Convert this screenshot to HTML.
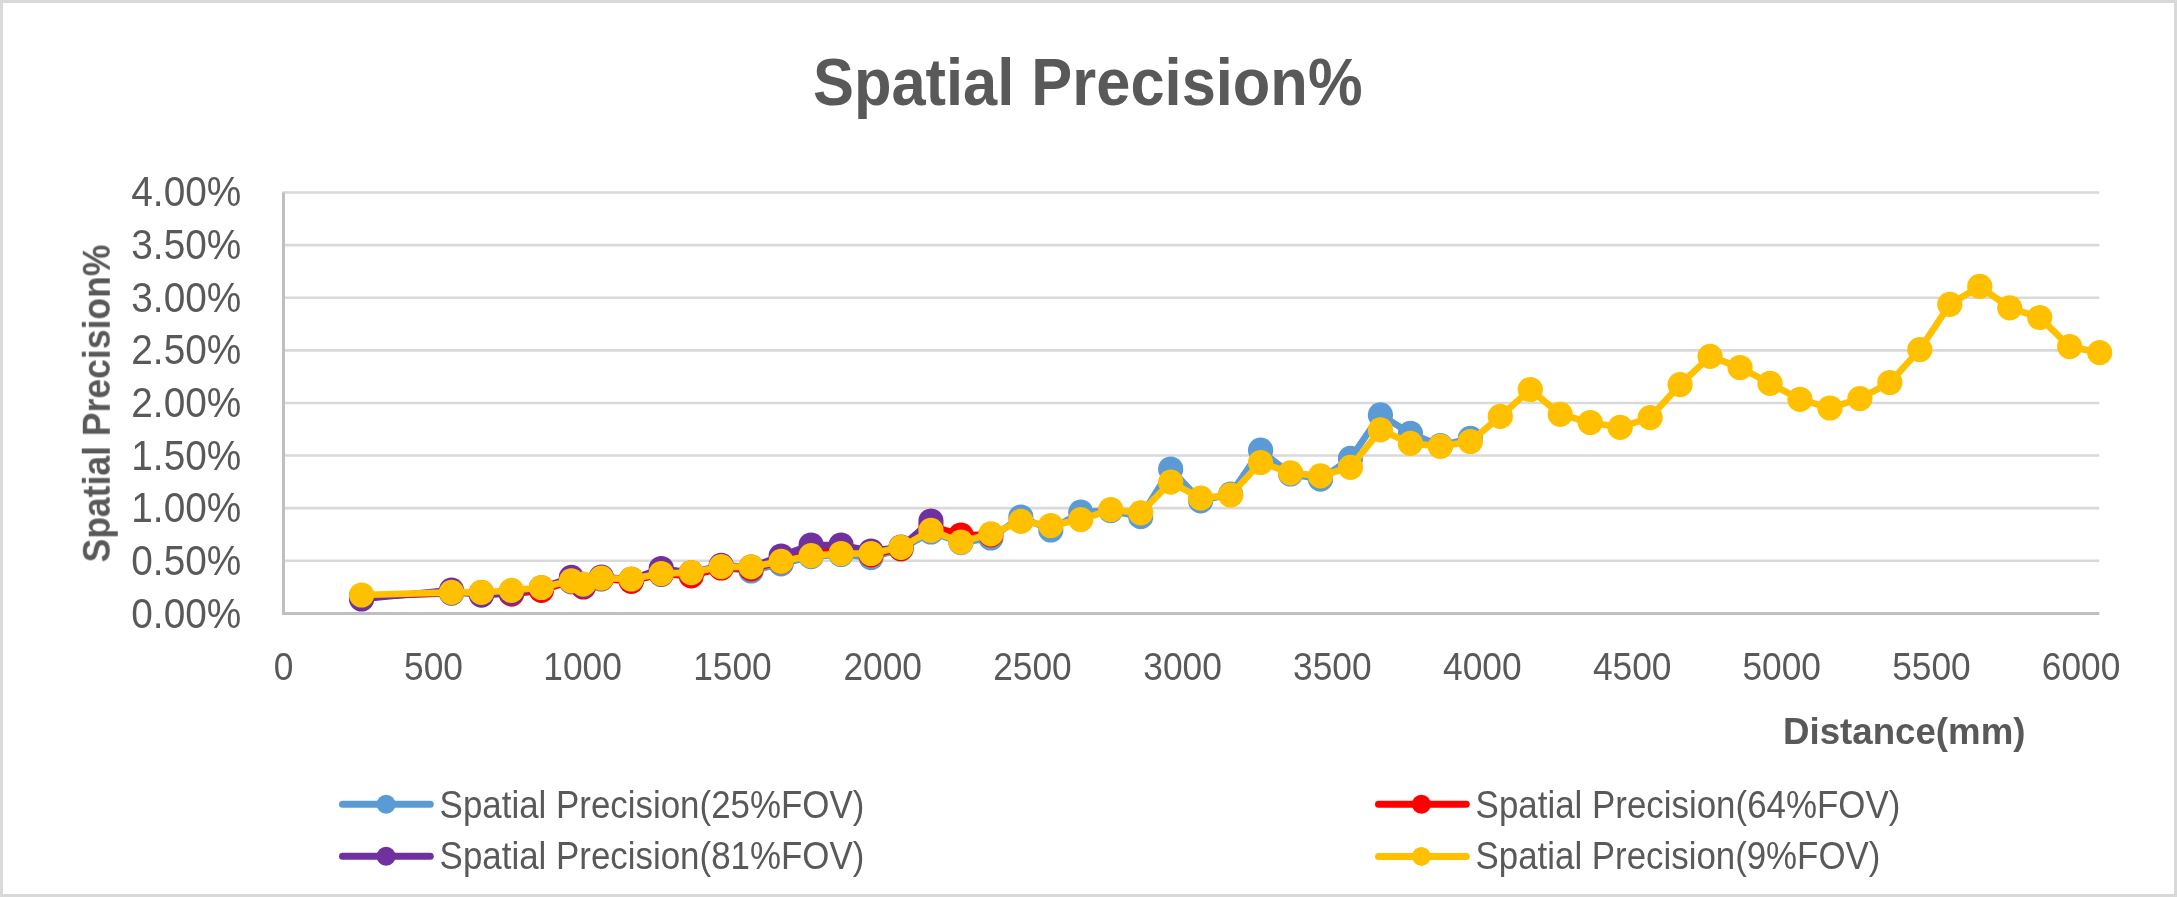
<!DOCTYPE html>
<html><head><meta charset="utf-8"><title>Spatial Precision%</title>
<style>
html,body{margin:0;padding:0;background:#fff;width:2177px;height:897px;overflow:hidden;}
svg{display:block;font-family:"Liberation Sans", sans-serif;}
</style></head><body>
<svg width="2177" height="897" viewBox="0 0 2177 897">
<rect x="0" y="0" width="2177" height="897" fill="#D9D9D9"/>
<rect x="3" y="3" width="2171" height="891" fill="#FFFFFF"/>
<line x1="282.19" y1="560.79" x2="2099.3" y2="560.79" stroke="#D9D9D9" stroke-width="2.6"/>
<line x1="282.19" y1="508.17" x2="2099.3" y2="508.17" stroke="#D9D9D9" stroke-width="2.6"/>
<line x1="282.19" y1="455.56" x2="2099.3" y2="455.56" stroke="#D9D9D9" stroke-width="2.6"/>
<line x1="282.19" y1="402.95" x2="2099.3" y2="402.95" stroke="#D9D9D9" stroke-width="2.6"/>
<line x1="282.19" y1="350.34" x2="2099.3" y2="350.34" stroke="#D9D9D9" stroke-width="2.6"/>
<line x1="282.19" y1="297.73" x2="2099.3" y2="297.73" stroke="#D9D9D9" stroke-width="2.6"/>
<line x1="282.19" y1="245.11" x2="2099.3" y2="245.11" stroke="#D9D9D9" stroke-width="2.6"/>
<line x1="282.19" y1="192.50" x2="2099.3" y2="192.50" stroke="#D9D9D9" stroke-width="2.6"/>
<line x1="283.5" y1="192.6" x2="283.5" y2="614.9" stroke="#BFBFBF" stroke-width="3"/>
<line x1="282" y1="613.4" x2="2099.3" y2="613.4" stroke="#BFBFBF" stroke-width="3"/>
<path d="M361.60,596.00 L451.50,593.30 L481.47,593.40 L511.43,591.40 L541.40,588.50 L571.36,581.80 L583.35,585.20 L601.33,579.10 L631.30,580.00 L661.26,574.50 L691.23,573.60 L721.19,567.70 L751.16,571.00 L781.13,563.80 L811.09,556.70 L841.06,554.50 L871.02,557.60 L900.99,549.00 L930.96,532.00 L960.92,542.60 L990.89,538.00 L1020.85,517.00 L1050.82,530.00 L1080.79,512.20 L1110.75,510.60 L1140.72,516.70 L1170.68,469.00 L1200.65,500.80 L1230.62,494.10 L1260.58,450.20 L1290.55,474.00 L1320.51,479.20 L1350.48,458.40 L1380.45,414.90 L1410.41,433.30 L1440.38,445.60 L1470.34,438.40" fill="none" stroke="#5B9BD5" stroke-width="6.70" stroke-linejoin="round" stroke-linecap="round"/>
<circle cx="361.60" cy="596.00" r="12.60" fill="#5B9BD5"/><circle cx="451.50" cy="593.30" r="12.60" fill="#5B9BD5"/><circle cx="481.47" cy="593.40" r="12.60" fill="#5B9BD5"/><circle cx="511.43" cy="591.40" r="12.60" fill="#5B9BD5"/><circle cx="541.40" cy="588.50" r="12.60" fill="#5B9BD5"/><circle cx="571.36" cy="581.80" r="12.60" fill="#5B9BD5"/><circle cx="583.35" cy="585.20" r="12.60" fill="#5B9BD5"/><circle cx="601.33" cy="579.10" r="12.60" fill="#5B9BD5"/><circle cx="631.30" cy="580.00" r="12.60" fill="#5B9BD5"/><circle cx="661.26" cy="574.50" r="12.60" fill="#5B9BD5"/><circle cx="691.23" cy="573.60" r="12.60" fill="#5B9BD5"/><circle cx="721.19" cy="567.70" r="12.60" fill="#5B9BD5"/><circle cx="751.16" cy="571.00" r="12.60" fill="#5B9BD5"/><circle cx="781.13" cy="563.80" r="12.60" fill="#5B9BD5"/><circle cx="811.09" cy="556.70" r="12.60" fill="#5B9BD5"/><circle cx="841.06" cy="554.50" r="12.60" fill="#5B9BD5"/><circle cx="871.02" cy="557.60" r="12.60" fill="#5B9BD5"/><circle cx="900.99" cy="549.00" r="12.60" fill="#5B9BD5"/><circle cx="930.96" cy="532.00" r="12.60" fill="#5B9BD5"/><circle cx="960.92" cy="542.60" r="12.60" fill="#5B9BD5"/><circle cx="990.89" cy="538.00" r="12.60" fill="#5B9BD5"/><circle cx="1020.85" cy="517.00" r="12.60" fill="#5B9BD5"/><circle cx="1050.82" cy="530.00" r="12.60" fill="#5B9BD5"/><circle cx="1080.79" cy="512.20" r="12.60" fill="#5B9BD5"/><circle cx="1110.75" cy="510.60" r="12.60" fill="#5B9BD5"/><circle cx="1140.72" cy="516.70" r="12.60" fill="#5B9BD5"/><circle cx="1170.68" cy="469.00" r="12.60" fill="#5B9BD5"/><circle cx="1200.65" cy="500.80" r="12.60" fill="#5B9BD5"/><circle cx="1230.62" cy="494.10" r="12.60" fill="#5B9BD5"/><circle cx="1260.58" cy="450.20" r="12.60" fill="#5B9BD5"/><circle cx="1290.55" cy="474.00" r="12.60" fill="#5B9BD5"/><circle cx="1320.51" cy="479.20" r="12.60" fill="#5B9BD5"/><circle cx="1350.48" cy="458.40" r="12.60" fill="#5B9BD5"/><circle cx="1380.45" cy="414.90" r="12.60" fill="#5B9BD5"/><circle cx="1410.41" cy="433.30" r="12.60" fill="#5B9BD5"/><circle cx="1440.38" cy="445.60" r="12.60" fill="#5B9BD5"/><circle cx="1470.34" cy="438.40" r="12.60" fill="#5B9BD5"/>

<path d="M361.60,597.00 L451.50,592.60 L481.47,592.70 L511.43,594.20 L541.40,590.40 L571.36,581.10 L583.35,587.00 L601.33,578.40 L631.30,581.30 L661.26,573.80 L691.23,575.80 L721.19,568.00 L751.16,568.80 L781.13,561.60 L811.09,552.00 L841.06,550.50 L871.02,554.80 L900.99,548.60 L930.96,526.00 L960.92,535.00 L990.89,534.80" fill="none" stroke="#FF0000" stroke-width="6.70" stroke-linejoin="round" stroke-linecap="round"/>
<circle cx="361.60" cy="597.00" r="12.60" fill="#FF0000"/><circle cx="451.50" cy="592.60" r="12.60" fill="#FF0000"/><circle cx="481.47" cy="592.70" r="12.60" fill="#FF0000"/><circle cx="511.43" cy="594.20" r="12.60" fill="#FF0000"/><circle cx="541.40" cy="590.40" r="12.60" fill="#FF0000"/><circle cx="571.36" cy="581.10" r="12.60" fill="#FF0000"/><circle cx="583.35" cy="587.00" r="12.60" fill="#FF0000"/><circle cx="601.33" cy="578.40" r="12.60" fill="#FF0000"/><circle cx="631.30" cy="581.30" r="12.60" fill="#FF0000"/><circle cx="661.26" cy="573.80" r="12.60" fill="#FF0000"/><circle cx="691.23" cy="575.80" r="12.60" fill="#FF0000"/><circle cx="721.19" cy="568.00" r="12.60" fill="#FF0000"/><circle cx="751.16" cy="568.80" r="12.60" fill="#FF0000"/><circle cx="781.13" cy="561.60" r="12.60" fill="#FF0000"/><circle cx="811.09" cy="552.00" r="12.60" fill="#FF0000"/><circle cx="841.06" cy="550.50" r="12.60" fill="#FF0000"/><circle cx="871.02" cy="554.80" r="12.60" fill="#FF0000"/><circle cx="900.99" cy="548.60" r="12.60" fill="#FF0000"/><circle cx="930.96" cy="526.00" r="12.60" fill="#FF0000"/><circle cx="960.92" cy="535.00" r="12.60" fill="#FF0000"/><circle cx="990.89" cy="534.80" r="12.60" fill="#FF0000"/>

<path d="M361.60,599.00 L451.50,590.10 L481.47,595.10 L511.43,593.20 L541.40,587.80 L571.36,577.30 L583.35,586.10 L601.33,577.00 L631.30,579.30 L661.26,568.50 L691.23,572.90 L721.19,565.30 L751.16,567.20 L781.13,556.00 L811.09,545.00 L841.06,545.00 L871.02,551.00 L900.99,547.00 L930.96,521.00" fill="none" stroke="#7030A0" stroke-width="6.70" stroke-linejoin="round" stroke-linecap="round"/>
<circle cx="361.60" cy="599.00" r="12.60" fill="#7030A0"/><circle cx="451.50" cy="590.10" r="12.60" fill="#7030A0"/><circle cx="481.47" cy="595.10" r="12.60" fill="#7030A0"/><circle cx="511.43" cy="593.20" r="12.60" fill="#7030A0"/><circle cx="541.40" cy="587.80" r="12.60" fill="#7030A0"/><circle cx="571.36" cy="577.30" r="12.60" fill="#7030A0"/><circle cx="583.35" cy="586.10" r="12.60" fill="#7030A0"/><circle cx="601.33" cy="577.00" r="12.60" fill="#7030A0"/><circle cx="631.30" cy="579.30" r="12.60" fill="#7030A0"/><circle cx="661.26" cy="568.50" r="12.60" fill="#7030A0"/><circle cx="691.23" cy="572.90" r="12.60" fill="#7030A0"/><circle cx="721.19" cy="565.30" r="12.60" fill="#7030A0"/><circle cx="751.16" cy="567.20" r="12.60" fill="#7030A0"/><circle cx="781.13" cy="556.00" r="12.60" fill="#7030A0"/><circle cx="811.09" cy="545.00" r="12.60" fill="#7030A0"/><circle cx="841.06" cy="545.00" r="12.60" fill="#7030A0"/><circle cx="871.02" cy="551.00" r="12.60" fill="#7030A0"/><circle cx="900.99" cy="547.00" r="12.60" fill="#7030A0"/><circle cx="930.96" cy="521.00" r="12.60" fill="#7030A0"/>

<path d="M361.60,595.00 L451.50,592.30 L481.47,592.40 L511.43,590.40 L541.40,587.50 L571.36,580.80 L583.35,584.20 L601.33,578.10 L631.30,579.00 L661.26,573.50 L691.23,572.60 L721.19,566.70 L751.16,566.90 L781.13,561.30 L811.09,555.70 L841.06,553.50 L871.02,553.50 L900.99,547.30 L930.96,530.30 L960.92,542.10 L990.89,533.80 L1020.85,521.40 L1050.82,525.50 L1080.79,519.60 L1110.75,509.70 L1140.72,512.80 L1170.68,482.10 L1200.65,498.10 L1230.62,495.00 L1260.58,462.50 L1290.55,472.80 L1320.51,475.80 L1350.48,467.30 L1380.45,429.90 L1410.41,443.30 L1440.38,446.40 L1470.34,441.50 L1500.31,416.40 L1530.28,389.50 L1560.24,414.30 L1590.21,422.50 L1620.17,427.40 L1650.14,417.60 L1680.11,384.60 L1710.07,356.40 L1740.04,367.50 L1770.00,383.40 L1799.97,399.40 L1829.94,408.00 L1859.90,398.60 L1889.87,382.50 L1919.83,349.60 L1949.80,304.30 L1979.77,286.40 L2009.73,307.80 L2039.70,317.50 L2069.66,346.60 L2099.63,352.60" fill="none" stroke="#FFC000" stroke-width="6.70" stroke-linejoin="round" stroke-linecap="round"/>
<circle cx="361.60" cy="595.00" r="12.60" fill="#FFC000"/><circle cx="451.50" cy="592.30" r="12.60" fill="#FFC000"/><circle cx="481.47" cy="592.40" r="12.60" fill="#FFC000"/><circle cx="511.43" cy="590.40" r="12.60" fill="#FFC000"/><circle cx="541.40" cy="587.50" r="12.60" fill="#FFC000"/><circle cx="571.36" cy="580.80" r="12.60" fill="#FFC000"/><circle cx="583.35" cy="584.20" r="12.60" fill="#FFC000"/><circle cx="601.33" cy="578.10" r="12.60" fill="#FFC000"/><circle cx="631.30" cy="579.00" r="12.60" fill="#FFC000"/><circle cx="661.26" cy="573.50" r="12.60" fill="#FFC000"/><circle cx="691.23" cy="572.60" r="12.60" fill="#FFC000"/><circle cx="721.19" cy="566.70" r="12.60" fill="#FFC000"/><circle cx="751.16" cy="566.90" r="12.60" fill="#FFC000"/><circle cx="781.13" cy="561.30" r="12.60" fill="#FFC000"/><circle cx="811.09" cy="555.70" r="12.60" fill="#FFC000"/><circle cx="841.06" cy="553.50" r="12.60" fill="#FFC000"/><circle cx="871.02" cy="553.50" r="12.60" fill="#FFC000"/><circle cx="900.99" cy="547.30" r="12.60" fill="#FFC000"/><circle cx="930.96" cy="530.30" r="12.60" fill="#FFC000"/><circle cx="960.92" cy="542.10" r="12.60" fill="#FFC000"/><circle cx="990.89" cy="533.80" r="12.60" fill="#FFC000"/><circle cx="1020.85" cy="521.40" r="12.60" fill="#FFC000"/><circle cx="1050.82" cy="525.50" r="12.60" fill="#FFC000"/><circle cx="1080.79" cy="519.60" r="12.60" fill="#FFC000"/><circle cx="1110.75" cy="509.70" r="12.60" fill="#FFC000"/><circle cx="1140.72" cy="512.80" r="12.60" fill="#FFC000"/><circle cx="1170.68" cy="482.10" r="12.60" fill="#FFC000"/><circle cx="1200.65" cy="498.10" r="12.60" fill="#FFC000"/><circle cx="1230.62" cy="495.00" r="12.60" fill="#FFC000"/><circle cx="1260.58" cy="462.50" r="12.60" fill="#FFC000"/><circle cx="1290.55" cy="472.80" r="12.60" fill="#FFC000"/><circle cx="1320.51" cy="475.80" r="12.60" fill="#FFC000"/><circle cx="1350.48" cy="467.30" r="12.60" fill="#FFC000"/><circle cx="1380.45" cy="429.90" r="12.60" fill="#FFC000"/><circle cx="1410.41" cy="443.30" r="12.60" fill="#FFC000"/><circle cx="1440.38" cy="446.40" r="12.60" fill="#FFC000"/><circle cx="1470.34" cy="441.50" r="12.60" fill="#FFC000"/><circle cx="1500.31" cy="416.40" r="12.60" fill="#FFC000"/><circle cx="1530.28" cy="389.50" r="12.60" fill="#FFC000"/><circle cx="1560.24" cy="414.30" r="12.60" fill="#FFC000"/><circle cx="1590.21" cy="422.50" r="12.60" fill="#FFC000"/><circle cx="1620.17" cy="427.40" r="12.60" fill="#FFC000"/><circle cx="1650.14" cy="417.60" r="12.60" fill="#FFC000"/><circle cx="1680.11" cy="384.60" r="12.60" fill="#FFC000"/><circle cx="1710.07" cy="356.40" r="12.60" fill="#FFC000"/><circle cx="1740.04" cy="367.50" r="12.60" fill="#FFC000"/><circle cx="1770.00" cy="383.40" r="12.60" fill="#FFC000"/><circle cx="1799.97" cy="399.40" r="12.60" fill="#FFC000"/><circle cx="1829.94" cy="408.00" r="12.60" fill="#FFC000"/><circle cx="1859.90" cy="398.60" r="12.60" fill="#FFC000"/><circle cx="1889.87" cy="382.50" r="12.60" fill="#FFC000"/><circle cx="1919.83" cy="349.60" r="12.60" fill="#FFC000"/><circle cx="1949.80" cy="304.30" r="12.60" fill="#FFC000"/><circle cx="1979.77" cy="286.40" r="12.60" fill="#FFC000"/><circle cx="2009.73" cy="307.80" r="12.60" fill="#FFC000"/><circle cx="2039.70" cy="317.50" r="12.60" fill="#FFC000"/><circle cx="2069.66" cy="346.60" r="12.60" fill="#FFC000"/><circle cx="2099.63" cy="352.60" r="12.60" fill="#FFC000"/>

<line x1="342.5" y1="804.3" x2="430.3" y2="804.3" stroke="#5B9BD5" stroke-width="7" stroke-linecap="round"/>
<circle cx="386.1" cy="804.3" r="9.5" fill="#5B9BD5"/>
<line x1="342.5" y1="856.3" x2="430.3" y2="856.3" stroke="#7030A0" stroke-width="7" stroke-linecap="round"/>
<circle cx="386.1" cy="856.3" r="9.5" fill="#7030A0"/>
<line x1="1378.5" y1="804.3" x2="1466.3" y2="804.3" stroke="#FF0000" stroke-width="7" stroke-linecap="round"/>
<circle cx="1421.4" cy="804.3" r="9.5" fill="#FF0000"/>
<line x1="1378.5" y1="856.4" x2="1466.3" y2="856.4" stroke="#FFC000" stroke-width="7" stroke-linecap="round"/>
<circle cx="1421.4" cy="856.4" r="9.5" fill="#FFC000"/>
<g style="will-change:transform" fill="#595959" font-family="'Liberation Sans', sans-serif">
<text x="812.93" y="104.70" font-size="66.00" font-weight="bold" textLength="549.59" lengthAdjust="spacingAndGlyphs">Spatial Precision%</text>
<text x="131.31" y="206.20" font-size="42.00" textLength="109.97" lengthAdjust="spacingAndGlyphs">4.00%</text>
<text x="131.31" y="258.88" font-size="42.00" textLength="109.97" lengthAdjust="spacingAndGlyphs">3.50%</text>
<text x="131.31" y="311.56" font-size="42.00" textLength="109.97" lengthAdjust="spacingAndGlyphs">3.00%</text>
<text x="131.31" y="364.24" font-size="42.00" textLength="109.97" lengthAdjust="spacingAndGlyphs">2.50%</text>
<text x="131.31" y="416.92" font-size="42.00" textLength="109.97" lengthAdjust="spacingAndGlyphs">2.00%</text>
<text x="131.31" y="469.60" font-size="42.00" textLength="109.97" lengthAdjust="spacingAndGlyphs">1.50%</text>
<text x="131.31" y="522.28" font-size="42.00" textLength="109.97" lengthAdjust="spacingAndGlyphs">1.00%</text>
<text x="131.31" y="574.96" font-size="42.00" textLength="109.97" lengthAdjust="spacingAndGlyphs">0.50%</text>
<text x="131.31" y="627.64" font-size="42.00" textLength="109.97" lengthAdjust="spacingAndGlyphs">0.00%</text>
<text x="273.87" y="680.40" font-size="38.00" textLength="19.63" lengthAdjust="spacingAndGlyphs">0</text>
<text x="404.03" y="680.40" font-size="38.00" textLength="58.89" lengthAdjust="spacingAndGlyphs">500</text>
<text x="543.37" y="680.40" font-size="38.00" textLength="78.52" lengthAdjust="spacingAndGlyphs">1000</text>
<text x="693.17" y="680.40" font-size="38.00" textLength="78.52" lengthAdjust="spacingAndGlyphs">1500</text>
<text x="843.43" y="680.40" font-size="38.00" textLength="78.52" lengthAdjust="spacingAndGlyphs">2000</text>
<text x="993.23" y="680.40" font-size="38.00" textLength="78.52" lengthAdjust="spacingAndGlyphs">2500</text>
<text x="1143.25" y="680.40" font-size="38.00" textLength="78.52" lengthAdjust="spacingAndGlyphs">3000</text>
<text x="1293.05" y="680.40" font-size="38.00" textLength="78.52" lengthAdjust="spacingAndGlyphs">3500</text>
<text x="1443.11" y="680.40" font-size="38.00" textLength="78.52" lengthAdjust="spacingAndGlyphs">4000</text>
<text x="1592.91" y="680.40" font-size="38.00" textLength="78.52" lengthAdjust="spacingAndGlyphs">4500</text>
<text x="1742.41" y="680.40" font-size="38.00" textLength="78.52" lengthAdjust="spacingAndGlyphs">5000</text>
<text x="1892.21" y="680.40" font-size="38.00" textLength="78.52" lengthAdjust="spacingAndGlyphs">5500</text>
<text x="2041.82" y="680.40" font-size="38.00" textLength="78.52" lengthAdjust="spacingAndGlyphs">6000</text>
<text x="1783.05" y="743.70" font-size="37.50" font-weight="bold" textLength="242.38" lengthAdjust="spacingAndGlyphs">Distance(mm)</text>
<g transform="translate(109.8,561.4) rotate(-90)"><text x="-1.02" y="0.00" font-size="38.00" font-weight="bold" textLength="317.76" lengthAdjust="spacingAndGlyphs">Spatial Precision%</text></g>
<text x="439.62" y="818.00" font-size="38.00" textLength="424.75" lengthAdjust="spacingAndGlyphs">Spatial Precision(25%FOV)</text>
<text x="439.62" y="869.10" font-size="38.00" textLength="424.75" lengthAdjust="spacingAndGlyphs">Spatial Precision(81%FOV)</text>
<text x="1475.62" y="818.00" font-size="38.00" textLength="424.75" lengthAdjust="spacingAndGlyphs">Spatial Precision(64%FOV)</text>
<text x="1475.62" y="869.10" font-size="38.00" textLength="404.74" lengthAdjust="spacingAndGlyphs">Spatial Precision(9%FOV)</text>
</g>
</svg>
</body></html>
